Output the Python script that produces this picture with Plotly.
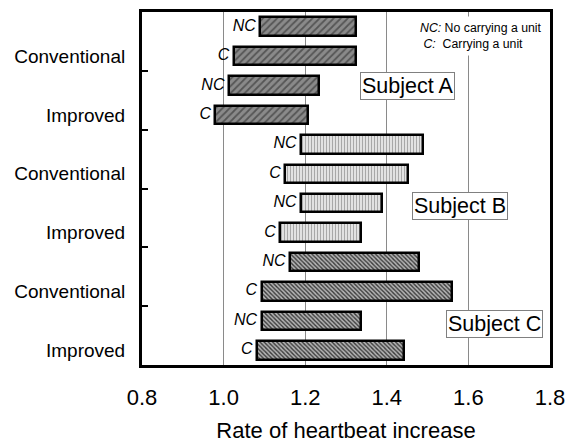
import plotly.graph_objects as go

# ---- data ----
subjects = ["Subject A", "Subject B", "Subject C"]
conditions = ["NC", "C", "NC", "C"]          # per subject: Conventional NC, C; Improved NC, C
group_labels = ["Conventional", "Improved", "Conventional", "Improved", "Conventional", "Improved"]

low_A = [1.09, 1.025, 1.013, 0.98]
high_A = [1.325, 1.325, 1.233, 1.208]
low_B = [1.19, 1.151, 1.19, 1.139]
high_B = [1.488, 1.451, 1.389, 1.337]
low_C = [1.163, 1.093, 1.093, 1.082]
high_C = [1.478, 1.56, 1.337, 1.443]

x_ticks = [0.8, 1.0, 1.2, 1.4, 1.6, 1.8]

lows = [low_A, low_B, low_C]
highs = [high_A, high_B, high_C]

styles = [
    dict(bg="#8a8a8a", fg="#555555", shape="/", size=5, solidity=0.35),
    dict(bg="#e2e2e2", fg="#a8a8a8", shape="|", size=3, solidity=0.35),
    dict(bg="#b4b4b4", fg="#3a3a3a", shape="\\", size=3, solidity=0.45),
]

FONT = "Liberation Sans, Arial, sans-serif"
PAD = "\u00a0"

fig = go.Figure()
for i, subj in enumerate(subjects):
    rows = [i * 4 + k for k in range(4)]
    st = styles[i]
    fig.add_trace(go.Bar(
        orientation="h",
        y=rows,
        base=lows[i],
        x=[h - l for h, l in zip(highs[i], lows[i])],
        width=0.63,
        marker=dict(
            color=st["bg"],
            line=dict(color="black", width=2.5),
            pattern=dict(shape=st["shape"], fillmode="replace", bgcolor=st["bg"],
                         fgcolor=st["fg"], size=st["size"], solidity=st["solidity"]),
        ),
        showlegend=False,
        hoverinfo="skip",
    ))
for i, subj in enumerate(subjects):
    rows = [i * 4 + k for k in range(4)]
    fig.add_trace(go.Scatter(
        x=lows[i], y=rows, mode="text", text=[c + PAD for c in conditions],
        textposition="middle left",
        textfont=dict(family=FONT, size=16, style="italic", color="black"),
        showlegend=False, hoverinfo="skip",
    ))

label_rows = [2 * k + 1 for k in range(len(group_labels))]
boundary_rows = [2 * k + 1.5 for k in range(len(group_labels) - 1)]

fig.update_layout(
    width=575, height=443,
    margin=dict(l=142, r=25, t=12, b=78),
    paper_bgcolor="white", plot_bgcolor="white",
    font=dict(family=FONT, color="black"),
    bargap=0,
    xaxis=dict(
        range=[0.8, 1.8], tickvals=x_ticks, tickformat=".1f",
        tickfont=dict(size=22), ticks="", ticklabelstandoff=11,
        showgrid=True, gridcolor="#8a8a8a", gridwidth=1,
        showline=True, linecolor="black", linewidth=3, mirror=True,
        zeroline=False, automargin=False,
        title=dict(text="Rate of heartbeat increase", font=dict(size=22), standoff=16),
    ),
    yaxis=dict(
        range=[11.5, -0.5], tickvals=label_rows, ticktext=group_labels,
        tickfont=dict(size=19), ticks="", ticklabelstandoff=10,
        showgrid=False, zeroline=False, automargin=False,
        showline=True, linecolor="black", linewidth=3, mirror=True,
        minor=dict(tickmode="array", tickvals=boundary_rows, ticks="inside",
                   ticklen=6, tickwidth=2, tickcolor="black", showgrid=False),
    ),
)

# legend-like note
fig.add_annotation(
    x=1.468, y=0.33, xref="x", yref="y", xanchor="left", yanchor="middle",
    text="<i>NC:</i> No carrying a unit<br>\u00a0<i>C:</i>\u00a0 Carrying a unit",
    align="left", showarrow=False, bgcolor="white", borderpad=4,
    font=dict(size=12.3, family=FONT),
)

subj_pos = [(1.45, 2.0), (1.58, 6.1), (1.664, 10.1)]
for subj, (sx, sy) in zip(subjects, subj_pos):
    fig.add_annotation(
        x=sx, y=sy, xref="x", yref="y", text=subj, showarrow=False,
        bgcolor="white", bordercolor="#808080", borderwidth=1, borderpad=1,
        font=dict(size=21.5, family=FONT),
    )

fig.write_html("out.html")
